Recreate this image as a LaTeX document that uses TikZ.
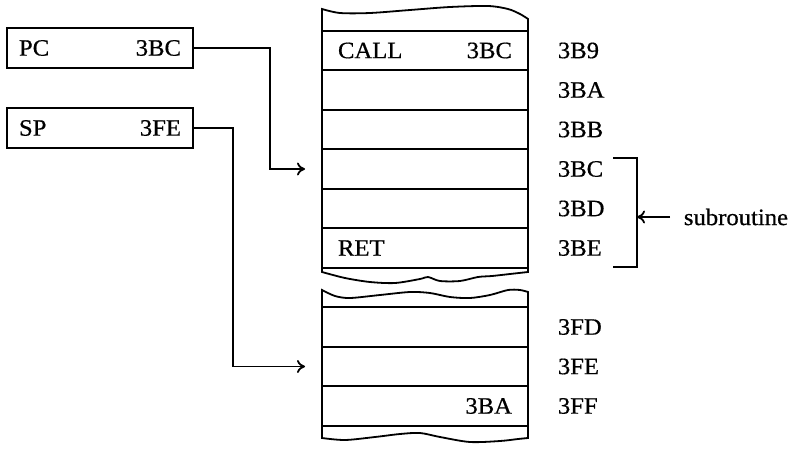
\documentclass[tikz,border=0pt]{standalone}
\usepackage{fontspec}
\setmainfont[FakeStretch=1.05,FakeBold=0.6]{Liberation Serif}
\usetikzlibrary{arrows.meta,positioning}

\begin{document}
\begin{tikzpicture}[
    x=1pt,y=-1pt,
    line width=1.8pt,
    font=\fontsize{23.5}{27}\selectfont,
    cell/.style={rectangle,draw,outer sep=0pt,minimum width=206pt,minimum height=39.5pt,inner xsep=16pt,inner ysep=0pt,text width=174pt},
    reg/.style={rectangle,draw,outer sep=0pt,minimum width=186pt,minimum height=40pt,inner xsep=12pt,inner ysep=0pt,text width=162pt},
    addr/.style={inner sep=0pt},
    arrow/.style={-{To[length=8pt,width=13pt]}}
  ]
  \useasboundingbox (0,0) rectangle (797,450);
  % registers
  \node[reg] (pc) at (100,48) {PC\hfill 3BC};
  \node[reg] (sp) at (100,128) {SP\hfill 3FE};
  % memory, upper part
  \node[cell] (m3b9) at (425,50.5) {CALL\hfill 3BC};
  \node[cell,below=0pt of m3b9] (m3ba) {};
  \node[cell,below=0pt of m3ba] (m3bb) {};
  \node[cell,below=0pt of m3bb] (m3bc) {};
  \node[cell,below=0pt of m3bc] (m3bd) {};
  \node[cell,below=0pt of m3bd] (m3be) {RET};
  % memory, lower part
  \node[cell] (m3fd) at (425,327) {};
  \node[cell,below=0pt of m3fd] (m3fe) {};
  \node[cell,below=0pt of m3fe] (m3ff) {\hfill 3BA};
  % addresses
  \node[addr,right=29pt of m3b9] (a3b9) {3B9};
  \node[addr,right=29pt of m3ba] (a3ba) {3BA};
  \node[addr,right=29pt of m3bb] (a3bb) {3BB};
  \node[addr,right=29pt of m3bc] (a3bc) {3BC};
  \node[addr,right=29pt of m3bd] (a3bd) {3BD};
  \node[addr,right=29pt of m3be] (a3be) {3BE};
  \node[addr,right=29pt of m3fd] (a3fd) {3FD};
  \node[addr,right=29pt of m3fe] (a3fe) {3FE};
  \node[addr,right=29pt of m3ff] (a3ff) {3FF};
  % torn edges
  \draw (m3b9.north west) -- plot[smooth] coordinates {(322,9) (340,13) (370,13) (410,10) (450,7) (488,6) (508,9) (520,14) (528,19)} -- (m3b9.north east);
  \draw (m3be.south west) -- plot[smooth] coordinates {(322,272) (345,278) (370,282) (395,283) (420,279) (428,277) (440,281) (460,281) (478,277) (492,276) (510,274) (528,272)} -- (m3be.south east);
  \draw (m3fd.north west) -- plot[smooth] coordinates {(322,290) (335,296) (350,298) (380,295) (410,292) (430,293) (450,297) (470,298) (490,295) (508,290) (520,290) (528,292)} -- (m3fd.north east);
  \draw (m3ff.south west) -- plot[smooth] coordinates {(322,438) (345,440) (375,437) (400,434) (420,433) (440,437) (470,442) (500,441) (518,439) (528,438)} -- (m3ff.south east);
  % pointers
  \coordinate[left=17pt of m3bc] (pcin);
  \coordinate[left=17pt of m3fe] (spin);
  \draw[arrow] (pc.east) -- ++(77,0) |- (pcin);
  \draw[arrow] (sp.east) -- ++(40,0) |- (spin);
  % subroutine bracket
  \coordinate (brtop) at (637,158);
  \coordinate (brbot) at (637,267);
  \draw ([xshift=-24pt]brtop) -- (brtop) -- (brbot) -- ([xshift=-24pt]brbot);
  \node[anchor=west,inner xsep=13pt,inner ysep=0pt] (sub) at (670,217) {subroutine};
  \draw[arrow] (sub.west) -- (sub.west -| brtop);
\end{tikzpicture}
\end{document}
